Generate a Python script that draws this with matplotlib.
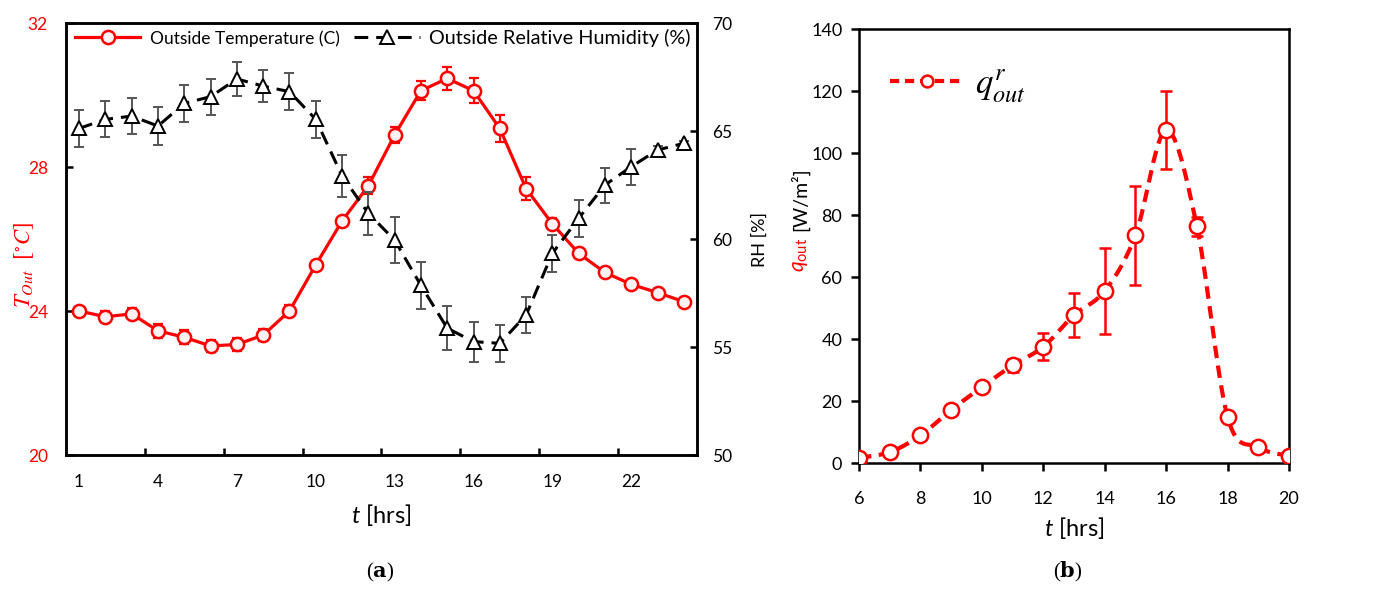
import numpy as np
import matplotlib
matplotlib.use('Agg')
from matplotlib import pyplot as plt
from matplotlib.lines import Line2D

plt.rcParams['font.family'] = ['Lato', 'DejaVu Sans']
plt.rcParams['mathtext.fontset'] = 'custom'
plt.rcParams['mathtext.it'] = 'Lato:italic'
plt.rcParams['mathtext.rm'] = 'Lato'

# (a) hourly outside conditions
hours = list(range(1, 25))
temp = [24.0, 23.84, 23.92, 23.45, 23.27, 23.03, 23.07, 23.33, 24.0, 25.28, 26.5, 27.48,
        28.89, 30.12, 30.46, 30.12, 29.07, 27.4, 26.42, 25.6, 25.07, 24.74, 24.51, 24.26]
temp_err = [0.1, 0.15, 0.15, 0.2, 0.19, 0.17, 0.17, 0.17, 0.18, 0.12, 0.12, 0.24,
            0.23, 0.27, 0.33, 0.34, 0.37, 0.31, 0.15, 0.1, 0.1, 0.1, 0.1, 0.1]
rh = [65.12, 65.54, 65.69, 65.23, 66.28, 66.59, 67.41, 67.08, 66.82, 65.54, 62.92, 61.19,
      59.95, 57.85, 55.87, 55.25, 55.17, 56.48, 59.34, 60.96, 62.5, 63.35, 64.12, 64.43]
rh_err = [0.85, 0.83, 0.83, 0.89, 0.85, 0.83, 0.79, 0.76, 0.86, 0.86, 0.97, 0.99,
          1.08, 1.08, 1.02, 0.93, 0.87, 0.85, 0.85, 0.85, 0.81, 0.83, 0.2, 0.1]
hour_labels = [1, 4, 7, 10, 13, 16, 19, 22]

# (b) outside radiative flux
hours_b = list(range(6, 21))
q_out = [1.8, 3.6, 9.0, 17.2, 24.6, 31.6, 37.6, 47.8, 55.6, 73.5, 107.5, 76.5, 15.0, 5.2, 2.4]
q_err = [0, 0, 0, 0, 0, 2.2, 4.3, 7.0, 14.0, 16.0, 12.5, 3.1, 0, 0, 0]

RED = '#ff0000'


def excel_smooth(x, y, n=30):
    # bezier smoothing like excel's "smoothed line"
    p = np.column_stack([x, y]).astype(float)
    p = np.vstack([p[0], p, p[-1]])
    t = np.linspace(0, 1, n)[:, None]
    out = []
    for i in range(len(p) - 3):
        p0, p1, p2, p3 = p[i], p[i + 1], p[i + 2], p[i + 3]
        c1 = p1 + (p2 - p0) / 6
        c2 = p2 - (p3 - p1) / 6
        seg = (1 - t)**3 * p1 + 3 * (1 - t)**2 * t * c1 + 3 * (1 - t) * t**2 * c2 + t**3 * p2
        out.append(seg if i == 0 else seg[1:])
    out = np.vstack(out)
    return out[:, 0], out[:, 1]


fig = plt.figure(figsize=(13.89, 5.9), dpi=100)
ax1 = fig.add_axes([0.0475, 0.2288, 0.4543, 0.7322])
ax2 = ax1.twinx()
axb = fig.add_axes([0.6184, 0.2147, 0.3096, 0.7356])

# ---- panel a ----
ax1.errorbar(hours, temp, yerr=temp_err, fmt='none', ecolor=RED, elinewidth=1.6, capsize=3.6, capthick=1.6, zorder=2)
l_t, = ax1.plot(hours, temp, color=RED, lw=2.3, marker='o', ms=9.5, mfc='#fff2f2', mec=RED, mew=1.8, zorder=3,
                label='Outside Temperature (C)')
ax2.errorbar(hours, rh, yerr=rh_err, fmt='none', ecolor='#555555', elinewidth=1.4, capsize=3.6, capthick=1.4, zorder=2)
l_rh, = ax2.plot(hours, rh, color='black', lw=2.2, ls='--', dashes=(4.5, 2.6), marker='^', ms=10.5,
                 mfc='white', mec='black', mew=1.4, zorder=3, label='Outside Relative Humidity (%)')

ax1.set_xlim(0.5, 24.5)
ax1.set_ylim(20, 32)
ax1.set_yticks([20, 24, 28, 32])
ax2.set_ylim(50, 70)
ax2.set_yticks([50, 55, 60, 65, 70])
ax1.set_xticks(hour_labels)
ax1.set_xticks(np.arange(3.5, 24, 3), minor=True)
ax1.tick_params(axis='x', which='major', length=0, pad=14, labelsize=12.5)
ax1.tick_params(axis='x', which='minor', direction='in', length=5, width=1.8)
ax1.tick_params(axis='y', direction='in', length=5, width=1.8, pad=13, labelsize=12.5, labelcolor=RED)
ax2.tick_params(axis='y', direction='in', length=5, width=1.8, pad=11, labelsize=12.5)
for a in (ax1, ax2):
    for s in a.spines.values():
        s.set_linewidth(1.8)

ax1.set_ylabel(r'$T_{Out}\ \ [^{\circ}C]$', color=RED, fontsize=16.5, math_fontfamily='stix')
ax1.yaxis.set_label_coords(-0.048, 0.44)
ax2.set_ylabel('RH [%]', fontsize=13)
ax2.yaxis.set_label_coords(1.087, 0.5)
ax1.set_xlabel(r'$t$ [hrs]', fontsize=17, labelpad=8)

leg = ax1.legend(handles=[l_t, l_rh], loc='upper left', bbox_to_anchor=(-0.005, 1.015), ncol=2, frameon=False,
                 fontsize=14.3, handlelength=3.3, columnspacing=0.7, handletextpad=0.5, borderaxespad=0.2)
leg.get_texts()[0].set_fontsize(12.5)

fig.text(0.274, 0.022, r'($\mathbf{a}$)', ha='center', fontsize=15, family='Liberation Serif', math_fontfamily='dejavuserif')

# ---- panel b ----
xs, ys = excel_smooth(hours_b, q_out)
axb.errorbar(hours_b, q_out, yerr=q_err, fmt='none', ecolor=RED, elinewidth=1.8, capsize=4.6, capthick=1.8, zorder=2)
axb.plot(xs, ys, color=RED, lw=3, ls='--', dashes=(3, 1.8), zorder=3)
axb.plot(hours_b, q_out, ls='none', marker='o', ms=11, mfc='white', mec=RED, mew=1.8, zorder=4)

axb.set_xlim(6, 20)
axb.set_ylim(0, 140)
axb.set_xticks(range(6, 21, 2))
axb.set_yticks(range(0, 141, 20))
axb.tick_params(axis='x', direction='out', length=6, width=1.8, pad=14, labelsize=13)
axb.tick_params(axis='y', direction='out', length=6, width=1.8, pad=6, labelsize=13)
for s in axb.spines.values():
    s.set_linewidth(1.8)
axb.set_xlabel(r'$t$ [hrs]', fontsize=17, labelpad=6)

axb.text(-0.137, 0.48, r'$q_{\mathrm{out}}$', color=RED, fontsize=15, rotation=90, ha='center', va='center',
         transform=axb.transAxes)
axb.text(-0.137, 0.609, '[W/m²]', fontsize=14, rotation=90, ha='center', va='center', transform=axb.transAxes)

proxy = Line2D([], [], color=RED, lw=3, ls='--', dashes=(2.2, 1.4), marker='o', ms=8.5, mfc='white', mec=RED, mew=1.8)
legb = axb.legend(handles=[proxy], labels=[r'$q^{r}_{out}$'], loc='upper left', bbox_to_anchor=(0.0, 0.985),
                  frameon=False, fontsize=25, handlelength=2.1, handletextpad=0.35, borderaxespad=0.5)
legb.get_texts()[0].set_math_fontfamily('stix')

fig.text(0.769, 0.022, r'($\mathbf{b}$)', ha='center', fontsize=15, family='Liberation Serif', math_fontfamily='dejavuserif')

fig.savefig('out.png', dpi=100, facecolor='white')
